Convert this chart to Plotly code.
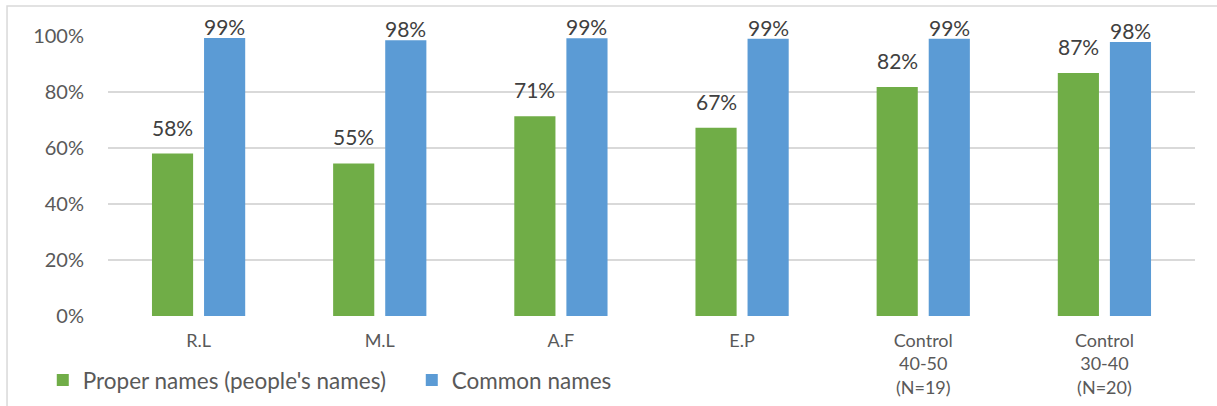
import plotly.graph_objects as go

categories = ["R.L", "M.L", "A.F", "E.P", "Control<br>40-50<br>(N=19)", "Control<br>30-40<br>(N=20)"]
proper_names = [0.58, 0.545, 0.713, 0.672, 0.818, 0.868]
common_names = [0.993, 0.985, 0.992, 0.99, 0.99, 0.979]
y_ticks = [0, 0.2, 0.4, 0.6, 0.8, 1.0]
y_tick_labels = ["0%", "20%", "40%", "60%", "80%", "100%"]

GREEN = "#70AD47"
BLUE = "#5B9BD5"
FONT = "Lato"

fig = go.Figure()
fig.add_trace(go.Bar(name="Proper names (people's names)", x=categories, y=proper_names,
                     marker=dict(color=GREEN, line=dict(width=0))))
fig.add_trace(go.Bar(name="Common names", x=categories, y=common_names,
                     marker=dict(color=BLUE, line=dict(width=0))))

annotations = []
for c, v in zip(categories, proper_names):
    annotations.append(dict(x=c, y=v, xref="x", yref="y", text=f"{v:.0%}", showarrow=False,
                            yanchor="bottom", xanchor="center", xshift=-26, yshift=12,
                            font=dict(family=FONT, size=21, color="#404040")))
for c, v in zip(categories, common_names):
    annotations.append(dict(x=c, y=v, xref="x", yref="y", text=f"{v:.0%}", showarrow=False,
                            yanchor="bottom", xanchor="center", xshift=26, yshift=-3,
                            font=dict(family=FONT, size=21, color="#404040")))

fig.update_layout(
    width=1217, height=406,
    margin=dict(l=108, r=22, t=36, b=90, autoexpand=False),
    paper_bgcolor="white", plot_bgcolor="white",
    barmode="group", bargap=0.425, bargroupgap=0.21,
    font=dict(family=FONT, color="#595959"),
    showlegend=True,
    legend=dict(orientation="h", x=-0.06, y=-0.23, xanchor="left", yanchor="middle",
                font=dict(family=FONT, size=22.5, color="#595959"),
                entrywidth=324, entrywidthmode="pixels", itemwidth=30,
                bgcolor="rgba(0,0,0,0)"),
    annotations=annotations,
    shapes=[dict(type="rect", xref="paper", yref="paper", x0=-0.0929, x1=1.03, y0=-0.38, y1=1.107,
                 line=dict(color="#D9D9D9", width=1.5), fillcolor="rgba(0,0,0,0)", layer="below")],
)
fig.update_xaxes(showgrid=False, showline=False, zeroline=False, ticks="", automargin=False,
                 tickfont=dict(family=FONT, size=18, color="#595959"), ticklabelstandoff=12)
fig.update_yaxes(range=[0, 1], tickvals=y_ticks, ticktext=y_tick_labels, automargin=False,
                 showgrid=True, gridcolor="#D9D9D9", gridwidth=1.5, zeroline=False, showline=False,
                 ticks="", tickfont=dict(family=FONT, size=20, color="#595959"), ticklabelstandoff=23)

fig.write_html("out.html")
